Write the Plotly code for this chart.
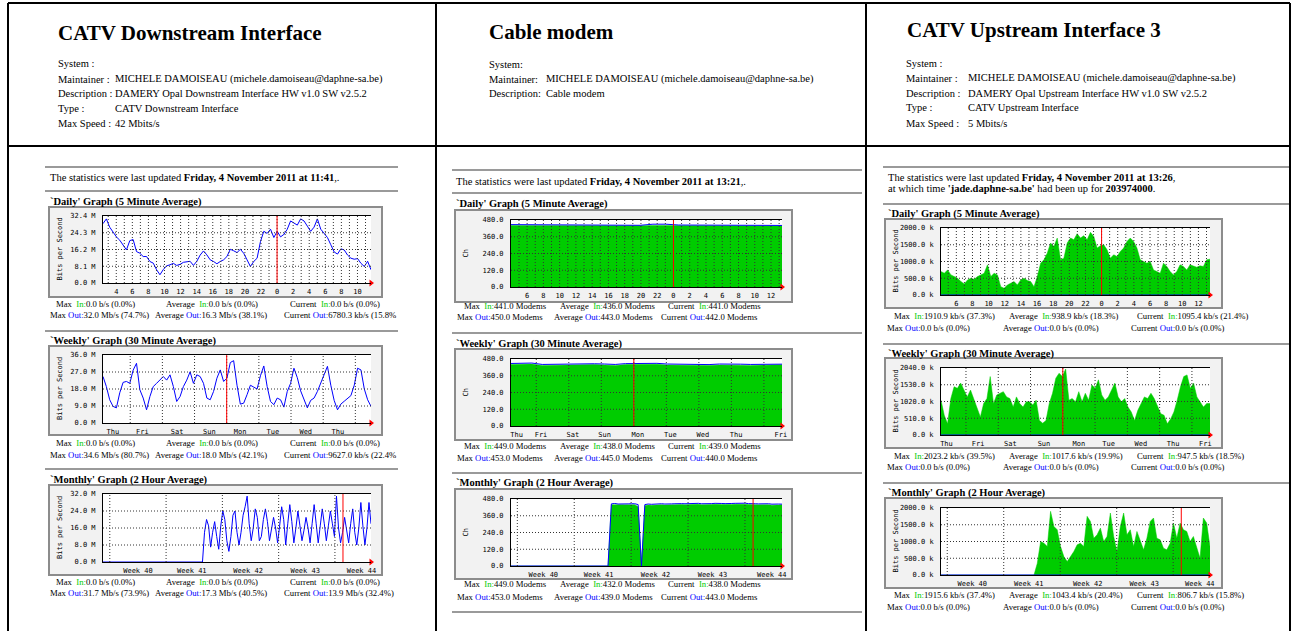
import math
import numpy as np
import plotly.graph_objects as go

W, H = 1294, 631

# ======================= DATA =======================
# CATV Downstream Interface - outbound traffic (Mb/s); inbound is 0
DS_DAILY_OUT = [28.7, 31.0, 27.0, 24.7, 22.3, 20.7, 18.3, 16.0, 20.5, 21.0,
                15.2, 14.4, 12.8, 12.8, 10.4, 9.6, 6.4, 4.0, 6.5, 8.3,
                8.8, 9.5, 8.5, 9.0, 10.0, 10.2, 10.5, 8.5, 10.5, 13.5,
                15.5, 13.6, 11.2, 10.4, 9.3, 10.4, 11.2, 12.8, 16.3, 15.6,
                14.7, 16.3, 14.4, 11.2, 8.0, 10.4, 12.0, 20.0, 25.0, 24.0,
                26.0, 22.0, 25.0, 22.3, 23.5, 26.0, 30.0, 29.0, 28.0, 31.0,
                30.0, 27.5, 25.0, 27.0, 31.0, 26.0, 24.0, 22.0, 18.5, 15.0,
                14.0, 16.5, 16.0, 13.5, 12.0, 11.5, 11.8, 9.5, 8.0, 10.5, 6.4]
DS_WEEKLY_OUT = [24.6, 19.3, 12.3, 8.8, 8.0, 16.0, 21.5, 22.0, 21.0, 28.0,
                 31.6, 17.6, 13.2, 7.0, 14.0, 19.3, 21.0, 22.7, 24.6, 22.7,
                 25.5, 19.3, 11.4, 14.0, 19.3, 22.7, 27.1, 21.0, 25.5, 24.6,
                 21.0, 13.2, 12.3, 16.7, 23.7, 28.1, 22.0, 23.7, 32.0, 33.0,
                 20.0, 10.0, 10.5, 15.0, 20.0, 19.0, 18.0, 25.0, 30.2, 19.3,
                 11.4, 9.7, 13.2, 12.3, 8.4, 16.7, 21.0, 29.0, 24.0, 17.0,
                 12.3, 8.0, 12.0, 13.2, 16.7, 21.0, 25.5, 30.0, 20.0, 12.0,
                 7.0, 10.0, 11.5, 13.0, 14.5, 20.0, 29.0, 28.1, 18.0, 12.3, 8.8]
DS_MONTHLY_OUT = [0, 0, 0, 0, 0, 0, 0, 0, 0, 0,
                  0, 0, 0, 0, 0, 0, 0, 0, 0, 0,
                  0, 0, 0, 0, 0, 0, 0, 0, 0, 0,
                  0, 0, 0, 0, 0, 0, 0, 0, 0, 0,
                  0, 0, 0, 0, 0, 0, 0, 0, 0,
                  0, 14, 20, 17, 7, 14, 19, 12, 6, 17,
                  24, 20, 10, 5, 12, 22, 24, 14, 8, 14,
                  22, 26, 31, 18, 10, 16, 25, 21, 10, 12,
                  20, 25, 19, 10, 15, 21, 16, 9, 17, 26,
                  20, 8, 18, 27, 19, 9, 16, 24, 17, 10,
                  15, 21, 16, 9, 18, 27, 18, 9, 17, 25,
                  18, 10, 17, 24, 18, 12, 31, 16, 9, 14,
                  21, 14, 9, 18, 25, 14, 8, 16, 28, 17,
                  8, 16, 28, 18]

# Cable modem - number of modems
CM_DAILY_IN = [440, 440, 440, 436, 435, 435, 436, 436, 437, 438, 439,
               441, 441, 439, 439, 439, 439, 439, 439, 439, 437, 437]
CM_DAILY_OUT = [447, 447, 447, 447, 447, 442, 442, 442, 442, 442, 442,
                450, 450, 444, 444, 444, 444, 444, 444, 444, 441, 441]
CM_WEEKLY_IN = [441, 440, 444, 434, 435, 439, 438, 439, 440, 437, 434, 440, 442, 440,
                442, 437, 435, 436, 435, 433, 437, 439, 436, 434, 435, 438, 439]
CM_WEEKLY_OUT = [448, 447, 451, 441, 442, 446, 445, 446, 446, 444, 441, 447, 449, 447,
                 449, 444, 442, 443, 442, 440, 444, 446, 443, 441, 442, 445, 443]
CM_MONTHLY_IN = [0, 0, 0, 0, 0, 0, 0, 0, 0, 0,
                 0, 0, 0, 0, 0, 0, 0, 0, 0, 0,
                 0, 0, 0, 0, 0, 0, 0, 0, 0, 0,
                 438, 440, 437, 439, 438, 438, 439, 439, 425, 0,
                 432, 437, 435, 438, 436, 439, 437, 440, 438, 439,
                 437, 440, 439, 441, 438, 440, 442, 439, 438, 441,
                 440, 442, 439, 441, 440, 443, 441, 442, 444, 441,
                 443, 440, 442, 439, 438, 440, 437, 439, 436, 438,
                 437, 438]
CM_MONTHLY_OUT = [0, 0, 0, 0, 0, 0, 0, 0, 0, 0,
                  0, 0, 0, 0, 0, 0, 0, 0, 0, 0,
                  0, 0, 0, 0, 0, 0, 0, 0, 0, 0,
                  445, 448, 444, 446, 445, 445, 446, 446, 440, 0,
                  440, 444, 442, 445, 443, 446, 444, 447, 445, 446,
                  444, 447, 446, 448, 445, 447, 449, 446, 445, 448,
                  447, 449, 446, 448, 447, 450, 448, 449, 451, 448,
                  450, 447, 449, 446, 445, 447, 444, 446, 443, 445,
                  444, 443]

# CATV Upstream Interface 3 - inbound traffic (kb/s); outbound is 0
US_DAILY_IN = [700, 650, 750, 600, 550, 500, 400, 330, 450, 500,
               470, 550, 600, 650, 900, 550, 650, 600, 250, 200,
               300, 350, 400, 300, 450, 500, 430, 400, 250, 550,
               950, 1050, 1250, 1550, 1450, 1700, 1050, 1100, 1550, 1700,
               1650, 1830, 1700, 1770, 1650, 1870, 1750, 1400, 1470, 1500,
               1350, 1100, 1200, 1150, 1300, 1400, 1600, 1700, 1600, 1400,
               1050, 1000, 950, 1000, 750, 700, 650, 950, 850, 700,
               600, 700, 900, 850, 750, 900, 870, 830, 870, 850, 1050, 1070]
US_WEEKLY_IN = [1060, 600, 340, 1110, 1470, 1420, 1580, 1370, 1160, 1370,
                1110, 850, 550, 960, 1110, 1780, 960, 1220, 1270, 1320,
                1160, 1110, 850, 1160, 960, 850, 1010, 1010, 910, 1060,
                440, 360, 440, 960, 1270, 1730, 1880, 1780, 2010, 1060,
                1110, 1010, 1320, 1010, 1270, 1060, 1520, 1420, 1680, 1220,
                1060, 1160, 1370, 1580, 1160, 1010, 1110, 850, 700, 440,
                750, 960, 1160, 1110, 1270, 1110, 850, 650, 600, 340,
                490, 700, 1060, 1470, 1780, 1830, 1420, 1580, 1160, 1010,
                850, 960, 960]
US_MONTHLY_IN = [0, 0, 0, 0, 0, 0, 0, 0, 0, 0,
                 0, 0, 0, 0, 0, 0, 0, 0, 0, 0,
                 0, 0, 0, 0, 0, 0, 0, 0, 0, 350,
                 1000, 950, 850, 1900, 1450, 1350, 850, 550, 400, 550,
                 700, 900, 950, 850, 1750, 1600, 1100, 1200, 1400, 1000,
                 1150, 1850, 1150, 700, 1450, 1850, 1200, 1350, 850, 1300,
                 1000, 750, 1100, 1600, 1700, 1100, 1050, 800, 750, 950,
                 1550, 1100, 1550, 1350, 1300, 1000, 1150, 800, 500, 1700,
                 1550, 850]
US_OUT = [0.0, 0.0]

# tick labels
WEEKDAYS_DS = ["Thu", "Fri", "Sat", "Sun", "Mon", "Tue", "Wed", "Thu"]
WEEKDAYS_9 = ["Thu", "Fri", "Sat", "Sun", "Mon", "Tue", "Wed", "Thu", "Fri"]
WEEK_LABELS = ["Week 40", "Week 41", "Week 42", "Week 43", "Week 44"]
DS_DAILY_Y = ["0.0 M", "8.1 M", "16.2 M", "24.3 M", "32.4 M"]
DS_WEEKLY_Y = ["0.0 M", "9.0 M", "18.0 M", "27.0 M", "36.0 M"]
DS_MONTHLY_Y = ["0.0 M", "8.0 M", "16.0 M", "24.0 M", "32.0 M"]
CM_Y = ["0.0", "120.0", "240.0", "360.0", "480.0"]
US_Y = ["0.0 k", "500.0 k", "1000.0 k", "1500.0 k", "2000.0 k"]
US_WEEKLY_Y = ["0.0 k", "510.0 k", "1020.0 k", "1530.0 k", "2040.0 k"]

# statistics text
STAT_NAMES = ["Max", "Average", "Current"]
DS_DAILY_STATS = (["0.0 b/s (0.0%)", "0.0 b/s (0.0%)", "0.0 b/s (0.0%)"],
                  ["32.0 Mb/s (74.7%)", "16.3 Mb/s (38.1%)", "6780.3 kb/s (15.8%"])
DS_WEEKLY_STATS = (["0.0 b/s (0.0%)", "0.0 b/s (0.0%)", "0.0 b/s (0.0%)"],
                   ["34.6 Mb/s (80.7%)", "18.0 Mb/s (42.1%)", "9627.0 kb/s (22.4%"])
DS_MONTHLY_STATS = (["0.0 b/s (0.0%)", "0.0 b/s (0.0%)", "0.0 b/s (0.0%)"],
                    ["31.7 Mb/s (73.9%)", "17.3 Mb/s (40.5%)", "13.9 Mb/s (32.4%)"])
CM_DAILY_STATS = (["441.0 Modems", "436.0 Modems", "441.0 Modems"],
                  ["450.0 Modems", "443.0 Modems", "442.0 Modems"])
CM_WEEKLY_STATS = (["449.0 Modems", "438.0 Modems", "439.0 Modems"],
                   ["453.0 Modems", "445.0 Modems", "440.0 Modems"])
CM_MONTHLY_STATS = (["449.0 Modems", "432.0 Modems", "438.0 Modems"],
                    ["453.0 Modems", "439.0 Modems", "443.0 Modems"])
US_DAILY_STATS = (["1910.9 kb/s (37.3%)", "938.9 kb/s (18.3%)", "1095.4 kb/s (21.4%)"],
                  ["0.0 b/s (0.0%)", "0.0 b/s (0.0%)", "0.0 b/s (0.0%)"])
US_WEEKLY_STATS = (["2023.2 kb/s (39.5%)", "1017.6 kb/s (19.9%)", "947.5 kb/s (18.5%)"],
                   ["0.0 b/s (0.0%)", "0.0 b/s (0.0%)", "0.0 b/s (0.0%)"])
US_MONTHLY_STATS = (["1915.6 kb/s (37.4%)", "1043.4 kb/s (20.4%)", "806.7 kb/s (15.8%)"],
                    ["0.0 b/s (0.0%)", "0.0 b/s (0.0%)", "0.0 b/s (0.0%)"])

GRAPH_TITLES = ["`Daily' Graph (5 Minute Average)",
                "`Weekly' Graph (30 Minute Average)",
                "`Monthly' Graph (2 Hour Average)"]

HEADERS = {
    "ds": ("CATV Downstream Interface",
           ["System :", "Maintainer :", "Description :", "Type :", "Max Speed :"],
           ["", "MICHELE DAMOISEAU (michele.damoiseau@daphne-sa.be)",
            "DAMERY Opal Downstream Interface HW v1.0 SW v2.5.2",
            "CATV Downstream Interface", "42 Mbits/s"]),
    "cm": ("Cable modem",
           ["System:", "Maintainer:", "Description:"],
           ["", "MICHELE DAMOISEAU (michele.damoiseau@daphne-sa.be)", "Cable modem"]),
    "us": ("CATV Upstream Interface 3",
           ["System :", "Maintainer :", "Description :", "Type :", "Max Speed :"],
           ["", "MICHELE DAMOISEAU (michele.damoiseau@daphne-sa.be)",
            "DAMERY Opal Upstream Interface HW v1.0 SW v2.5.2",
            "CATV Upstream Interface", "5 Mbits/s"]),
}
UPDATED = {"ds": (11, 41), "cm": (13, 21), "us": (13, 26)}
UPDATE_LINES = {
    "ds": ["The statistics were last updated <b>Friday, 4 November 2011 at 11:41</b>,."],
    "cm": ["The statistics were last updated <b>Friday, 4 November 2011 at 13:21</b>,."],
    "us": ["The statistics were last updated <b>Friday, 4 November 2011 at 13:26</b>,",
           "at which time <b>'jade.daphne-sa.be'</b> had been up for <b>203974000</b>."],
}

# ======================= LAYOUT GEOMETRY (pixels) =======================
SERIF = "Liberation Serif, Times New Roman, serif"
MONO = "DejaVu Sans Mono, monospace"
GREEN = "#00cc00"
BLUE = "#0000ff"

COLS = {
    "ds": dict(box_x=(49, 382), plot_x=(103, 371), ytitle_x=60, title_x=49,
               s1=(55, 165, 289), s2=(49, 154, 283), rule_x=(45, 398),
               rules=(167, 191, 331, 469), upd_y=(178,),
               head=dict(tx=57, ty=33, lx=57, vx=114, ys=(63, 79, 94, 109, 124)),
               ytitle="Bits per Second"),
    "cm": dict(box_x=(455, 792), plot_x=(511, 782), ytitle_x=465, title_x=455,
               s1=(463, 559, 667), s2=(456, 553, 660), rule_x=(452, 862),
               rules=(170, 193, 333, 473, 612), upd_y=(181,),
               head=dict(tx=488, ty=32, lx=488, vx=545, ys=(64, 79, 94)),
               ytitle="Ch"),
    "us": dict(box_x=(885, 1222), plot_x=(941, 1210), ytitle_x=895, title_x=887,
               s1=(893, 1008, 1136), s2=(886, 1002, 1130), rule_x=(883, 1289),
               rules=(167, 204, 344, 483), upd_y=(177, 189),
               head=dict(tx=906, ty=30, lx=905, vx=967, ys=(63, 78, 93, 107, 123)),
               ytitle="Bits per Second"),
}
ROWS = {  # (box_y, plot_y, title_y, stat rows y)
    "ds": [((207, 297), (216, 283), 202, (304, 315)),
           ((346, 435), (355, 423), 341, (443, 455)),
           ((485, 575), (494, 562), 480, (582, 593))],
    "cm": [((210, 302), (220, 287), 204, (306, 317)),
           ((349, 440), (359, 426), 344, (446, 458)),
           ((489, 579), (499, 566), 483, (584, 597))],
    "us": [((219, 308), (228, 295), 214, (316, 328)),
           ((358, 448), (368, 435), 354, (456, 467)),
           ((498, 588), (508, 575), 493, (595, 607))],
}
WEEKLY_TICKS = {"ds": [11, 33, 59, 83, 106, 130.5, 155, 179],
                "cm": [9.5, 27.5, 51, 74.5, 99, 123, 147, 171.5, 204.5],
                "us": [9.5, 33, 57, 82, 108, 130, 154, 178, 202]}
MONTHLY_TICKS = {"ds": [5.5, 12.2, 19.2, 26.3, 33.3],
                 "cm": [5.2, 12.0, 19.0, 26.0, 33.3],
                 "us": [5.1, 12.1, 19.4, 26.4, 33.3]}

# ======================= BUILD =======================
fig = go.Figure()
shapes, annots, axes = [], [], {}


def fx(x):
    return x / W


def fy(y):
    return 1 - y / H


def add_text(x, y, s, size=10.5, family=SERIF, xanchor="left", angle=0):
    annots.append(dict(xref="paper", yref="paper", x=fx(x), y=fy(y), text=s,
                       showarrow=False, xanchor=xanchor, yanchor="middle",
                       textangle=angle, borderpad=0,
                       font=dict(family=family, size=size, color="black")))


def pline(x0, y0, x1, y1, color="black", width=2):
    shapes.append(dict(type="line", xref="paper", yref="paper", x0=fx(x0), y0=fy(y0),
                       x1=fx(x1), y1=fy(y1), line=dict(color=color, width=width)))


def x_range(period, upd):
    h = upd[0] + upd[1] / 60.0
    if period == 0:
        right, span = 24 + h, 400 * 5 / 60.0
    elif period == 1:
        right, span = 192 + h, 400 * 30 / 60.0
    else:
        right, span = 34 + h / 24.0, 400 * 2 / 24.0
    return [right - span, right]


def add_graph(idx, col, period, series, ylabels, stats):
    c = COLS[col]
    box_y, plot_y, title_y, stat_y = ROWS[col][period]
    a = "" if idx == 1 else str(idx)
    xa, ya = "x" + a, "y" + a
    xr = x_range(period, UPDATED[col])

    if period == 0:
        grid = list(range(math.ceil(xr[0]), math.floor(xr[1]) + 1))
        tv = [g for g in grid if g % 2 == 0]
        tt = [str(g % 24) for g in tv]
        red = 24
    elif period == 1:
        grid = [24 * k for k in range(1, 9) if xr[0] < 24 * k < xr[1]]
        tv = WEEKLY_TICKS[col]
        tt = WEEKDAYS_DS if col == "ds" else WEEKDAYS_9
        red = 96
    else:
        grid = [2, 9, 16, 23, 30]
        tv = MONTHLY_TICKS[col]
        tt = WEEK_LABELS
        red = 31

    yvals = [float(s.split()[0]) for s in ylabels]

    # grey picture frame + white plotting area
    shapes.append(dict(type="rect", xref="paper", yref="paper",
                       x0=fx(c["box_x"][0]), x1=fx(c["box_x"][1]),
                       y0=fy(box_y[1]), y1=fy(box_y[0]),
                       fillcolor="#f2f2f2", line=dict(color="#8c8c8c", width=2), layer="below"))
    shapes.append(dict(type="rect", xref=xa + " domain", yref=ya + " domain",
                       x0=0, x1=1, y0=0, y1=1, fillcolor="white",
                       line=dict(width=0), layer="below"))

    axes["xaxis" + a] = dict(domain=[fx(c["plot_x"][0]), fx(c["plot_x"][1])], anchor=ya,
                             range=xr, tickmode="array", tickvals=tv, ticktext=tt,
                             showgrid=False, zeroline=False, showline=True,
                             linecolor="black", linewidth=1, mirror=True,
                             ticks="outside", ticklen=2, tickcolor="rgba(0,0,0,0)",
                             tickfont=dict(family=MONO, size=7, color="black"),
                             fixedrange=True, layer="above traces")
    axes["yaxis" + a] = dict(domain=[fy(plot_y[1]), fy(plot_y[0])], anchor=xa,
                             range=[0, yvals[-1]], tickmode="array", tickvals=yvals,
                             ticktext=ylabels, showgrid=False, zeroline=False,
                             showline=True, linecolor="black", linewidth=1,
                             ticks="outside", ticklen=5, tickcolor="rgba(0,0,0,0)",
                             tickfont=dict(family=MONO, size=7, color="black"),
                             fixedrange=True, layer="above traces")

    for kind, vals in series:
        xs = np.linspace(xr[0], xr[1], len(vals))
        if kind == "in":
            fig.add_trace(go.Scatter(x=xs, y=vals, xaxis=xa, yaxis=ya, mode="lines",
                                     fill="tozeroy", fillcolor=GREEN,
                                     line=dict(color=GREEN, width=0.5)))
        else:
            fig.add_trace(go.Scatter(x=xs, y=vals, xaxis=xa, yaxis=ya, mode="lines",
                                     line=dict(color=BLUE, width=1)))

    # dotted grid above the data, like MRTG
    for g in grid:
        shapes.append(dict(type="line", xref=xa, yref=ya + " domain", x0=g, x1=g, y0=0, y1=1,
                           line=dict(color="#333333", width=1, dash="1px,2px")))
    for v in yvals[1:-1]:
        shapes.append(dict(type="line", xref=xa + " domain", yref=ya, x0=0, x1=1, y0=v, y1=v,
                           line=dict(color="#333333", width=1, dash="1px,2px")))
    shapes.append(dict(type="line", xref=xa, yref=ya + " domain", x0=red, x1=red, y0=0, y1=1,
                       line=dict(color="#ff0000", width=1)))
    fig.add_trace(go.Scatter(x=[xr[1]], y=[0], xaxis=xa, yaxis=ya, mode="markers",
                             marker=dict(symbol="triangle-right", size=6, color="red"),
                             cliponaxis=False))

    add_text(c["ytitle_x"], (plot_y[0] + plot_y[1]) / 2, c["ytitle"], size=7,
             family=MONO, xanchor="center", angle=-90)
    add_text(c["title_x"], title_y, "<b>" + GRAPH_TITLES[period] + "</b>", size=10.5)

    ins, outs = stats
    for k in range(3):
        add_text(c["s1"][k], stat_y[0],
                 STAT_NAMES[k] + "\u00a0\u00a0<span style='color:#00cc00'>In:</span>" + ins[k],
                 size=8.7)
        add_text(c["s2"][k], stat_y[1],
                 STAT_NAMES[k] + "\u00a0<span style='color:#0000ff'>Out:</span>" + outs[k],
                 size=8.7)


add_graph(1, "ds", 0, [("out", DS_DAILY_OUT)], DS_DAILY_Y, DS_DAILY_STATS)
add_graph(2, "ds", 1, [("out", DS_WEEKLY_OUT)], DS_WEEKLY_Y, DS_WEEKLY_STATS)
add_graph(3, "ds", 2, [("out", DS_MONTHLY_OUT)], DS_MONTHLY_Y, DS_MONTHLY_STATS)
add_graph(4, "cm", 0, [("in", CM_DAILY_IN), ("out", CM_DAILY_OUT)], CM_Y, CM_DAILY_STATS)
add_graph(5, "cm", 1, [("in", CM_WEEKLY_IN), ("out", CM_WEEKLY_OUT)], CM_Y, CM_WEEKLY_STATS)
add_graph(6, "cm", 2, [("in", CM_MONTHLY_IN), ("out", CM_MONTHLY_OUT)], CM_Y, CM_MONTHLY_STATS)
add_graph(7, "us", 0, [("in", US_DAILY_IN), ("out", US_OUT)], US_Y, US_DAILY_STATS)
add_graph(8, "us", 1, [("in", US_WEEKLY_IN), ("out", US_OUT)], US_WEEKLY_Y, US_WEEKLY_STATS)
add_graph(9, "us", 2, [("in", US_MONTHLY_IN), ("out", US_OUT)], US_Y, US_MONTHLY_STATS)

# headers, update lines and rules
for col, c in COLS.items():
    title, labels, values = HEADERS[col]
    hd = c["head"]
    add_text(hd["tx"], hd["ty"], "<b>" + title + "</b>", size=21)
    for y, lab, val in zip(hd["ys"], labels, values):
        add_text(hd["lx"], y, lab, size=10.5)
        if val:
            add_text(hd["vx"], y, val, size=10.5)
    for y, line in zip(c["upd_y"], UPDATE_LINES[col]):
        add_text(c["title_x"], y, line, size=10.5)
    for y in c["rules"]:
        pline(c["rule_x"][0], y, c["rule_x"][1], y, color="#9a9a9a", width=2)

# outer table frame
pline(8, 3, 1290, 3)
pline(8, 146, 1290, 146)
for xv in (8, 436, 866, 1290):
    pline(xv, 3, xv, 631)

fig.update_layout(width=W, height=H, margin=dict(l=0, r=0, t=0, b=0, autoexpand=False),
                  paper_bgcolor="white", plot_bgcolor="white", showlegend=False,
                  hovermode=False, shapes=shapes, annotations=annots, **axes)

fig.write_html("out.html", config={"displayModeBar": False},
               post_script="document.body.style.margin='0px';"
                           "document.body.style.overflow='hidden';"
                           "document.documentElement.style.overflow='hidden';")
